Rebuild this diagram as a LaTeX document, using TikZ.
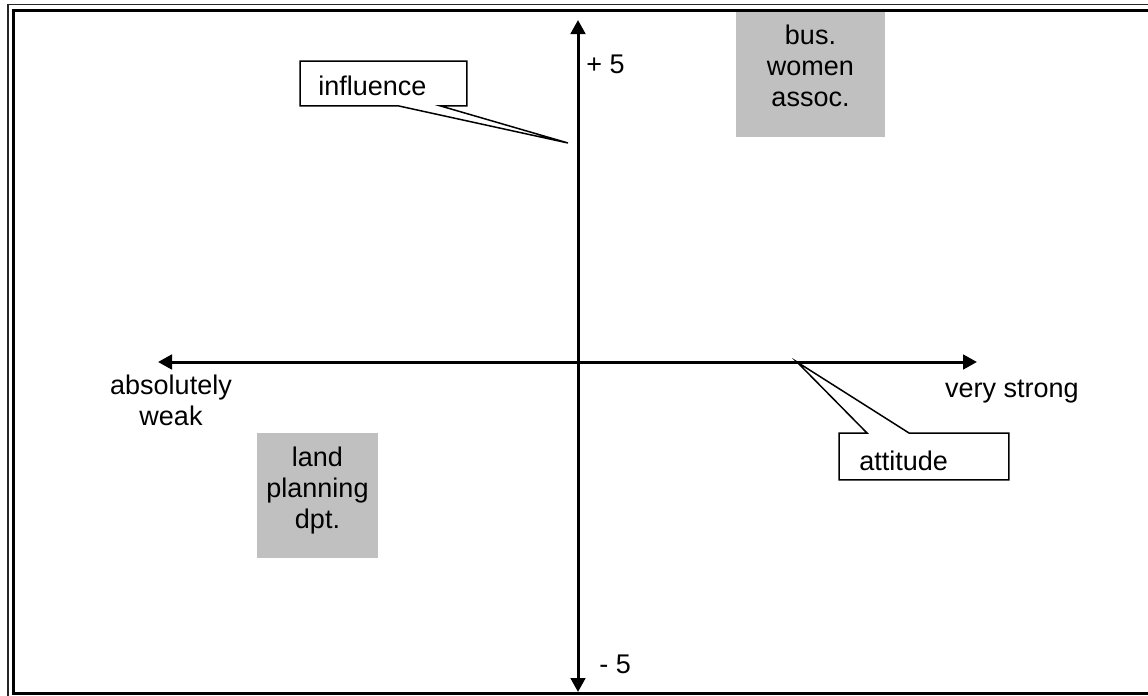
\documentclass[tikz,border=0pt]{standalone}
\usepackage{fontspec}
\setmainfont{Liberation Sans}
\usetikzlibrary{arrows.meta,calc}
\begin{document}
\begin{tikzpicture}[x=0.5pt,y=-0.5pt,
  font=\fontsize{13.5}{15.5}\selectfont,
  axisline/.style={line width=1.5pt,
    {Triangle[width=7.3pt,length=7pt]}-{Triangle[width=7.3pt,length=7pt]}},
  graybox/.style={fill={rgb,255:red,192;green,192;blue,192}, draw=none,
    inner sep=0pt},
  boxtext/.style={align=center, inner sep=0pt},
  lbl/.style={anchor=base, inner sep=0pt},
  callbox/.style={anchor=north west, align=left, inner ysep=0pt},
  callline/.style={line width=0.75pt, line join=miter}]
\useasboundingbox (0,0) rectangle (1148,696);
\clip (0,0) rectangle (1148,696);
\fill[white] (0,0) rectangle (1148,696);

% grey boxes
\node[graybox, minimum width=74.5pt, minimum height=62.5pt] (bus) at (810.5,74.5) {};
\node[boxtext] (bustext) at (810.5,66) {bus.\\women\\assoc.};
\node[graybox, minimum width=60.5pt, minimum height=62.5pt] (land) at (317.5,495.5) {};
\node[boxtext] (landtext) at (317.5,490.5) {land\\planning\\dpt.};

% frame
\draw[line width=0.75pt, black!85] (8,4.5) rectangle (1180,720);
\draw[line width=1.5pt] (13.8,10.5) rectangle (1180,693);

% axes
\coordinate (vtop) at (578,20);
\coordinate (vbot) at (578,692);
\coordinate (hleft) at (158,362);
\coordinate (hright) at (977,362);
\draw[axisline] (vbot) -- (vtop);
\draw[axisline] (hleft) -- (hright);

% axis labels
\node[lbl, anchor=base west] (plus) at (586,73) {+ 5};
\node[lbl, anchor=base west] (minus) at (599,673) {- 5};
\node[boxtext] (weak) at (171,400.7) {absolutely\\weak};
\node[lbl] (strong) at (1012,397) {very strong};

% callout: influence
\coordinate (inflTip) at (568,143);
\node[callbox, inner xsep=9pt, text width=65pt, text height=17pt, text depth=5pt]
  (infl) at (300,61) {influence};
\draw[callline] (infl.south west) -- ($(infl.south west)+(98,0)$) -- (inflTip)
  -- ($(infl.south west)+(140,0)$) -- (infl.south east) -- (infl.north east)
  -- (infl.north west) -- cycle;

% callout: attitude
\coordinate (attTip) at (797,362);
\node[callbox, inner xsep=10pt, text width=64.5pt, text height=18.5pt, text depth=4.5pt]
  (att) at (839,433) {attitude};
\draw[callline] (att.north west) -- ($(att.north west)+(28,0)$) -- (attTip)
  -- ($(att.north west)+(70,0)$) -- (att.north east) -- (att.south east)
  -- (att.south west) -- cycle;
\end{tikzpicture}
\end{document}
